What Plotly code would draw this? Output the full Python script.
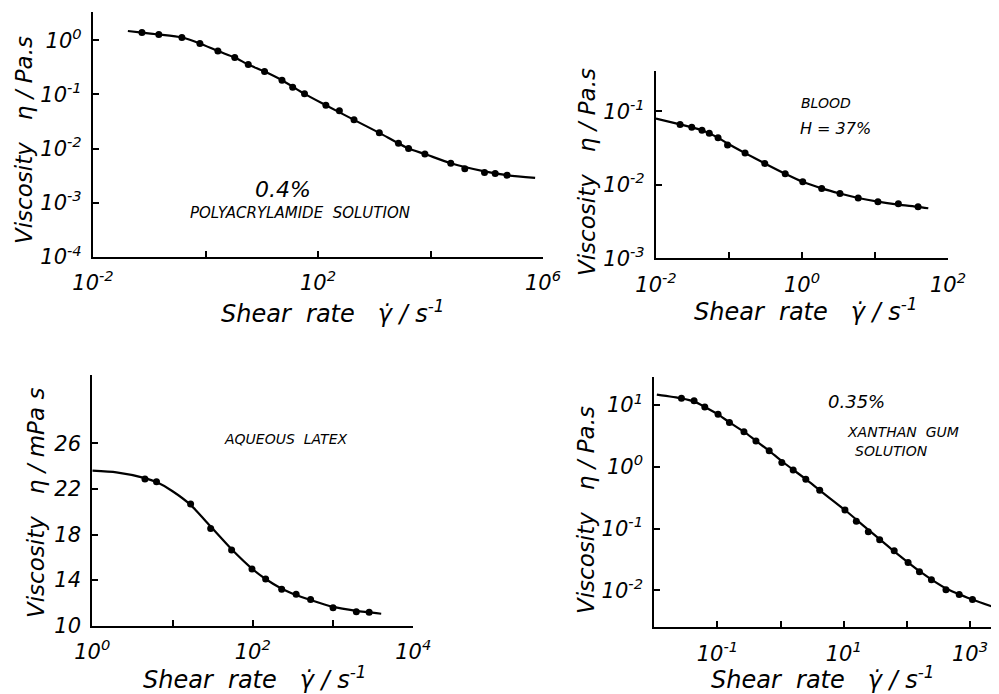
import plotly.graph_objects as go

W, H = 999, 694
OFF = 8  # page body margin offset of the rendered figure

# ---------- data (log10 values where noted) ----------
# Panel 1: 0.4% polyacrylamide solution (log10 shear rate, log10 viscosity Pa.s)
pam_logx = [-1.13, -0.83, -0.42, -0.10, 0.22, 0.52, 0.76, 1.05, 1.36, 1.55, 1.76, 2.14, 2.38, 2.64,
            3.09, 3.43, 3.61, 3.90, 4.36, 4.61, 4.96, 5.15, 5.36]
pam_logy = [0.14, 0.105, 0.05, -0.06, -0.20, -0.32, -0.45, -0.58, -0.74, -0.87, -0.99, -1.20, -1.30, -1.47,
            -1.71, -1.90, -2.00, -2.10, -2.27, -2.37, -2.44, -2.46, -2.49]
pam_curve_logx = [-1.38, -1.13, -0.83, -0.42, -0.10, 0.22, 0.52, 0.76, 1.05, 1.36, 1.76, 2.14, 2.64,
                  3.09, 3.61, 3.90, 4.36, 4.96, 5.36, 5.86]
pam_curve_logy = [0.17, 0.14, 0.105, 0.05, -0.06, -0.20, -0.32, -0.45, -0.58, -0.74, -0.99, -1.20, -1.47,
                  -1.71, -2.00, -2.10, -2.27, -2.42, -2.49, -2.54]

# Panel 2: blood, H = 37%
bl_logx = [-1.67, -1.51, -1.37, -1.27, -1.15, -1.02, -0.78, -0.51, -0.23, 0.01, 0.27, 0.52, 0.77,
           1.04, 1.32, 1.59]
bl_logy = [-1.18, -1.22, -1.26, -1.30, -1.36, -1.46, -1.57, -1.71, -1.85, -1.96, -2.05, -2.12, -2.18,
           -2.23, -2.26, -2.30]
bl_curve_logx = [-2.0, -1.67, -1.37, -1.15, -1.02, -0.78, -0.51, -0.23, 0.01, 0.27, 0.52, 0.77, 1.04,
                 1.32, 1.59, 1.73]
bl_curve_logy = [-1.10, -1.18, -1.26, -1.36, -1.44, -1.57, -1.71, -1.85, -1.96, -2.05, -2.12, -2.18,
                 -2.23, -2.27, -2.30, -2.32]

# Panel 3: aqueous latex (log10 shear rate, viscosity mPa.s)
lx_logx = [0.656, 0.80, 1.225, 1.475, 1.736, 1.99, 2.16, 2.36, 2.54, 2.72, 3.00, 3.29, 3.45]
lx_y = [22.87, 22.63, 20.67, 18.54, 16.64, 14.97, 14.09, 13.19, 12.75, 12.31, 11.58, 11.23, 11.17]
lx_curve_logx = [0.0, 0.3, 0.656, 0.80, 1.0, 1.225, 1.475, 1.736, 1.99, 2.16, 2.36, 2.54, 2.72, 3.00,
                 3.29, 3.60]
lx_curve_y = [23.6, 23.45, 22.95, 22.6, 21.8, 20.6, 18.7, 16.7, 15.0, 14.1, 13.25, 12.7, 12.25, 11.65,
              11.3, 11.05]

# Panel 4: 0.35% xanthan gum solution
xg_logx = [-1.57, -1.37, -1.20, -0.99, -0.81, -0.58, -0.39, -0.18, 0.02, 0.20, 0.40, 0.62, 1.02,
           1.20, 1.39, 1.57, 1.80, 2.02, 2.20, 2.39, 2.62, 2.83, 3.04]
xg_logy = [1.11, 1.07, 0.97, 0.85, 0.72, 0.57, 0.42, 0.26, 0.07, -0.05, -0.20, -0.38, -0.70,
           -0.88, -1.05, -1.18, -1.36, -1.55, -1.70, -1.83, -1.99, -2.07, -2.15]
xg_curve_logx = [-1.96, -1.57, -1.37, -1.20, -0.99, -0.81, -0.58, -0.39, -0.18, 0.02, 0.40, 0.62, 1.02,
                 1.39, 1.80, 2.20, 2.62, 3.04, 3.37]
xg_curve_logy = [1.17, 1.11, 1.06, 0.97, 0.85, 0.72, 0.57, 0.42, 0.26, 0.09, -0.20, -0.38, -0.70,
                 -1.02, -1.37, -1.69, -1.97, -2.15, -2.27]

# tick labels
p1_xticks = [1e-2, 1, 1e2, 1e4, 1e6]
p1_xtext = ["10<sup>-2</sup>", "", "10<sup>2</sup>", "", "10<sup>6</sup>"]
p1_yticks = [1, 1e-1, 1e-2, 1e-3, 1e-4]
p1_ytext = ["10<sup>0</sup>", "10<sup>-1</sup>", "10<sup>-2</sup>", "10<sup>-3</sup>", "10<sup>-4</sup>"]
p2_xticks = [1e-2, 1e-1, 1, 10, 100]
p2_xtext = ["10<sup>-2</sup>", "", "10<sup>0</sup>", "", "10<sup>2</sup>"]
p2_yticks = [1e-1, 1e-2, 1e-3]
p2_ytext = ["10<sup>-1</sup>", "10<sup>-2</sup>", "10<sup>-3</sup>"]
p3_xticks = [1, 10, 100, 1000, 10000]
p3_xtext = ["10<sup>0</sup>", "", "10<sup>2</sup>", "", "10<sup>4</sup>"]
p3_yticks = [10, 14, 18, 22, 26]
p4_xticks = [1e-1, 1, 10, 100, 1000]
p4_xtext = ["10<sup>-1</sup>", "", "10<sup>1</sup>", "", "10<sup>3</sup>"]
p4_yticks = [10, 1, 1e-1, 1e-2]
p4_ytext = ["10<sup>1</sup>", "10<sup>0</sup>", "10<sup>-1</sup>", "10<sup>-2</sup>"]

FONT = "DejaVu Sans"

def px2fx(px):
    return (px - OFF) / W

def py2fy(py):
    return 1 - (py - OFF) / H

fig = go.Figure()

def add_panel(i, cx, cy, px_, py_, ylog=True):
    xa = "x" if i == 1 else f"x{i}"
    ya = "y" if i == 1 else f"y{i}"
    tr = (lambda v: [10 ** t for t in v])
    cyv = tr(cy) if ylog else cy
    pyv = tr(py_) if ylog else py_
    fig.add_trace(go.Scatter(x=tr(cx), y=cyv, mode="lines",
                             line=dict(color="black", width=2.2, shape="spline", smoothing=0.6),
                             xaxis=xa, yaxis=ya, showlegend=False, hoverinfo="skip"))
    fig.add_trace(go.Scatter(x=tr(px_), y=pyv, mode="markers", marker=dict(color="black", size=7),
                             xaxis=xa, yaxis=ya, showlegend=False))

add_panel(1, pam_curve_logx, pam_curve_logy, pam_logx, pam_logy)
add_panel(2, bl_curve_logx, bl_curve_logy, bl_logx, bl_logy)
add_panel(3, lx_curve_logx, lx_curve_y, lx_logx, lx_y, ylog=False)
add_panel(4, xg_curve_logx, xg_curve_logy, xg_logx, xg_logy)

tickfont = dict(family=FONT, size=21, color="black", style="italic")
common = dict(showline=True, linecolor="black", linewidth=2.2, ticks="inside", ticklen=6,
              tickcolor="black", tickwidth=2, showgrid=False, zeroline=False, tickfont=tickfont,
              mirror=False, automargin=False)

def xaxis(dom, rng, anchor, tv, tt):
    return dict(domain=dom, range=rng, type="log", anchor=anchor, tickmode="array",
                tickvals=tv, ticktext=tt, ticklabelstandoff=6, **common)

def yaxis(dom, rng, anchor, tv, tt, log=True):
    d = dict(domain=dom, range=rng, anchor=anchor, tickmode="array", tickvals=tv,
             ticklabelstandoff=5, **common)
    d["type"] = "log" if log else "linear"
    if tt is not None:
        d["ticktext"] = tt
    return d

fig.update_layout(
    template="none",
    width=W, height=H, paper_bgcolor="white", plot_bgcolor="white",
    margin=dict(l=0, r=0, t=0, b=0, pad=0, autoexpand=False),
    xaxis=xaxis([px2fx(93), px2fx(543)], [-2, 6], "y", p1_xticks, p1_xtext),
    yaxis=yaxis([py2fy(257), py2fy(12)], [-4, 0.52], "x", p1_yticks, p1_ytext),
    xaxis2=xaxis([px2fx(656), px2fx(948)], [-2, 2], "y2", p2_xticks, p2_xtext),
    yaxis2=yaxis([py2fy(258.3), py2fy(70.7)], [-3, -0.45], "x2", p2_yticks, p2_ytext),
    xaxis3=xaxis([px2fx(92.3), px2fx(413.3)], [0, 4], "y3", p3_xticks, p3_xtext),
    yaxis3=yaxis([py2fy(625.7), py2fy(375)], [10, 32], "x3", p3_yticks, None, log=False),
    xaxis4=xaxis([px2fx(654.3), px2fx(993.3)], [-2, 3.37], "y4", p4_xticks, p4_xtext),
    yaxis4=yaxis([py2fy(627.3), py2fy(376.7)], [-2.6, 1.46], "x4", p4_yticks, p4_ytext),
)

def ann(text, px, py, size=19, angle=0, style="italic"):
    fig.add_annotation(text=text, x=px2fx(px), y=py2fy(py), xref="paper", yref="paper",
                       xanchor="center", yanchor="middle",
                       showarrow=False, textangle=angle,
                       font=dict(family=FONT, size=size, color="black", style=style))

xtitle = "Shear  rate   γ̇ / s<sup>-1</sup>"
ytitle = "Viscosity   η / Pa.s"
ann(ytitle, 24, 140, size=23, angle=-90)
ann(xtitle, 332, 312, size=24)
ann(ytitle, 587, 172, size=23, angle=-90)
ann(xtitle, 805, 310, size=24)
ann("Viscosity   η / mPa s", 36, 503, size=23, angle=-90)
ann(xtitle, 254, 678, size=24)
ann(ytitle, 586, 510, size=23, angle=-90)
ann(xtitle, 822, 678, size=24)

ann("0.4%", 283, 190, size=22)
ann("POLYACRYLAMIDE  SOLUTION", 300, 213, size=15)
ann("BLOOD", 826, 103, size=14)
ann("H = 37%", 835, 128, size=16)
ann("AQUEOUS  LATEX", 285, 439, size=14)
ann("0.35%", 856, 401, size=18)
ann("XANTHAN  GUM", 903, 432, size=14)
ann("SOLUTION", 891, 451, size=14)

fig.write_html("out.html")
